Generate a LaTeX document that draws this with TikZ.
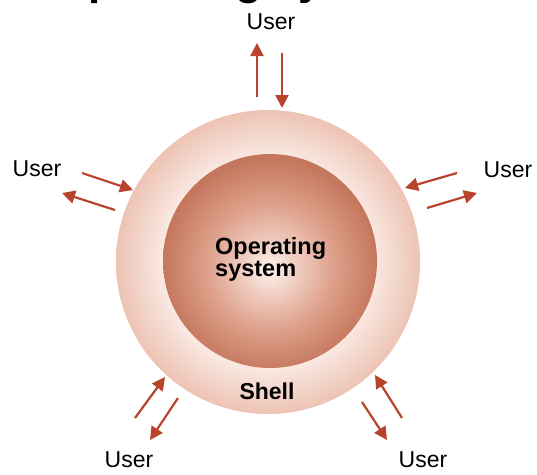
\documentclass[tikz,border=0pt]{standalone}
\usepackage{fontspec}
\setmainfont{Liberation Sans}
\usetikzlibrary{arrows.meta}
\definecolor{arrowred}{HTML}{B8442D}
\definecolor{ringout}{HTML}{EDC3B4}
\definecolor{ringmid}{HTML}{F5DCD2}
\definecolor{ringin}{HTML}{FAEBE5}
\definecolor{oscenter}{HTML}{FDF5F2}
\definecolor{osmidA}{HTML}{F1CFC2}
\definecolor{osmidB}{HTML}{DDA08A}
\definecolor{osedge}{HTML}{C5775E}
\pgfdeclareradialshading{osball}{\pgfpoint{0bp}{-2bp}}{color(0bp)=(oscenter); color(6bp)=(osmidA); color(15bp)=(osmidB); color(25bp)=(osedge); color(50bp)=(osedge)}
\pgfdeclareradialshading{ringsh}{\pgfpointorigin}{color(0bp)=(ringin); color(17bp)=(ringin); color(20bp)=(ringmid); color(25bp)=(ringout); color(50bp)=(ringout)}
\tikzset{
  usertxt/.style={font=\fontsize{23}{23}\selectfont, inner sep=0pt},
  conn/.style={draw=arrowred, line width=2.2pt, -{Triangle[width=13pt,length=13pt]}},
}
\begin{document}
\begin{tikzpicture}[x=1pt,y=-1pt]
\useasboundingbox (0,0) rectangle (537,474);
\clip (0,0) rectangle (537,474);
\fill[white] (0,0) rectangle (537,474);
% title (cut off at the top)
\node[anchor=base west, inner sep=0pt, font=\fontsize{44}{44}\selectfont\bfseries] (title) at (54,-6) {Operating system};
% circles
\node[circle, minimum size=304pt, inner sep=0pt, shading=ringsh] (shell) at (268,262) {};
\node[circle, minimum size=214pt, inner sep=0pt, shading=osball] (os) at (270,261) {};
\node[anchor=north west, inner sep=0pt, align=left, font=\fontsize{23.5}{22}\selectfont\bfseries] (ostext) at (215,237) {Operating\\system};
\node[inner sep=0pt, font=\fontsize{23}{23}\selectfont\bfseries] (shelltext) at (267,391) {Shell};
% users
\node[usertxt] (utop) at (271,22) {User};
\node[usertxt] (uleft) at (37,169) {User};
\node[usertxt] (uright) at (508,170) {User};
\node[usertxt] (ubl) at (129,460) {User};
\node[usertxt] (ubr) at (423,460) {User};
% arrow end points
\coordinate (t1a) at (257,97);  \coordinate (t1b) at (257,43);
\coordinate (t2a) at (282,53);  \coordinate (t2b) at (282,108);
\coordinate (l1a) at (82,173);  \coordinate (l1b) at (133,190);
\coordinate (l2a) at (115,210); \coordinate (l2b) at (62,193);
\coordinate (r1a) at (457,173); \coordinate (r1b) at (405,188);
\coordinate (r2a) at (427,208); \coordinate (r2b) at (477,193);
\coordinate (b1a) at (135,418); \coordinate (b1b) at (165,377);
\coordinate (b2a) at (178,398); \coordinate (b2b) at (150,440);
\coordinate (c1a) at (402,418); \coordinate (c1b) at (375,375);
\coordinate (c2a) at (362,402); \coordinate (c2b) at (387,440);
\draw[conn] (t1a) -- (t1b);
\draw[conn] (t2a) -- (t2b);
\draw[conn] (l1a) -- (l1b);
\draw[conn] (l2a) -- (l2b);
\draw[conn] (r1a) -- (r1b);
\draw[conn] (r2a) -- (r2b);
\draw[conn] (b1a) -- (b1b);
\draw[conn] (b2a) -- (b2b);
\draw[conn] (c1a) -- (c1b);
\draw[conn] (c2a) -- (c2b);
\end{tikzpicture}
\end{document}
